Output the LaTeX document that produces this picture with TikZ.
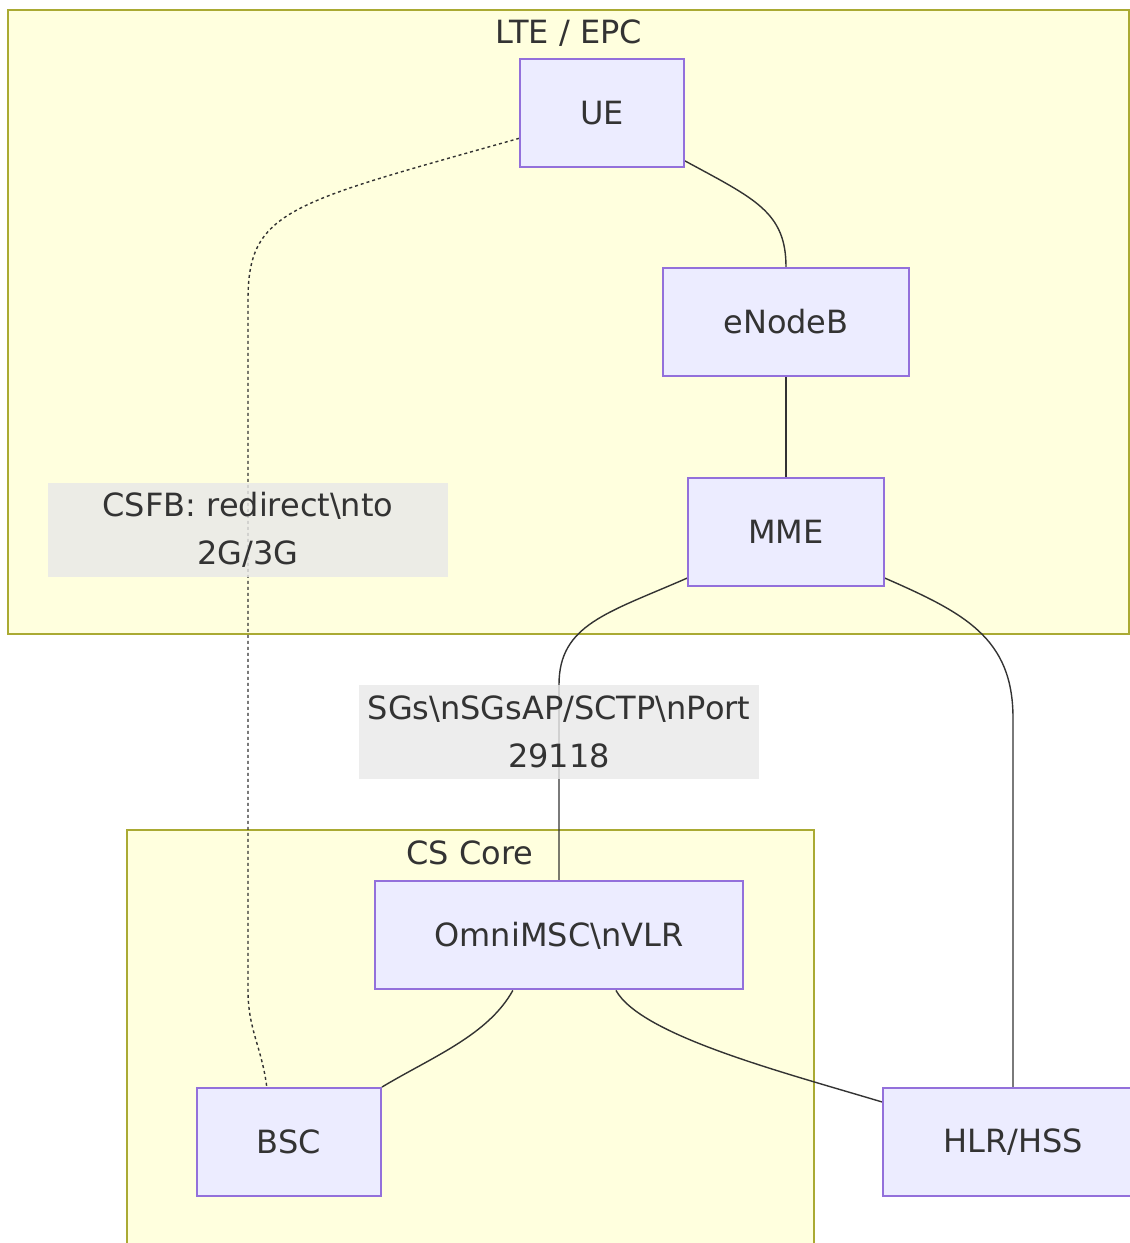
\documentclass[tikz,border=0pt]{standalone}
\usepackage{fontspec}
\setmainfont{DejaVu Sans}
\usepackage{xcolor}
\usepackage{tikz}
\usetikzlibrary{positioning, calc, backgrounds}
\definecolor{mtext}{HTML}{333333}
\definecolor{mnode}{HTML}{ECECFF}
\definecolor{mnodeline}{HTML}{9370DB}
\definecolor{mgroup}{HTML}{FFFFDE}
\definecolor{mgroupline}{HTML}{AAAA33}
\definecolor{mlabel}{HTML}{E8E8E8}
\definecolor{mlink}{HTML}{333333}
\tikzset{
  nf/.style={rectangle, draw=mnodeline, fill=mnode, text=mtext, line width=1pt,
             minimum height=54pt, inner xsep=30pt, align=center, font=\fontsize{16}{24}\selectfont},
  group/.style={rectangle, draw=mgroupline, fill=mgroup, line width=1pt, inner sep=0pt},
  grouptitle/.style={text=mtext, inner sep=0pt, font=\fontsize{16}{24}\selectfont},
  elabel/.style={rectangle, fill=mlabel, fill opacity=0.8, text opacity=1, text=mtext,
                 minimum width=200pt, minimum height=47pt, inner sep=0pt, align=center,
                 font=\fontsize{16}{24}\selectfont},
  link/.style={draw=mlink, line width=0.7pt},
  csfblink/.style={link, dash pattern=on 1.5pt off 1.5pt}
}

\begin{document}
\begin{tikzpicture}[x=0.5pt, y=-0.5pt]
  \useasboundingbox (0,0) rectangle (1130,1243);

  % nodes
  \node[nf] (ue) at (602,113) {UE};
  \node[nf] (enb) at (786,322) {eNodeB};
  \node[nf, below=50pt of enb] (mme) {MME};
  \node[elabel] (csfb) at (248,530) {CSFB: redirect\textbackslash nto\\2G/3G};
  \node[elabel] (sgs) at (559,732) {SGs\textbackslash nSGsAP/SCTP\textbackslash nPort\\29118};
  \node[nf, below=50.5pt of sgs] (msc) {OmniMSC\textbackslash nVLR};
  \node[nf] (bsc) at (289,1142) {BSC};
  \node[nf] (hlr) at (1013,1142) {HLR/HSS};

  \node[grouptitle] (ltetitle) at (569,33) {LTE / EPC};
  \node[grouptitle] (cstitle) at (470,853) {CS Core};

  \begin{pgfonlayer}{background}
    % subgraphs
    \node[group, minimum width=560.5pt, minimum height=312pt] (lte) at (568.5,322) {};
    \node[group, minimum width=343.5pt, minimum height=240pt] (cs) at (470.5,1070) {};

    % links
    \draw[link] (ue.-30) .. controls +(70,38) and +(0,-55) .. (enb.north);
    \draw[link] (enb.south) -- (mme.north);
    \draw[link] (mme.205) .. controls +(-80,35) and +(0,-60) .. (sgs.north -| msc.north) -- (msc.north);
    \draw[link] (mme.-25) .. controls +(80,35) and +(0,-80) .. ($(hlr.north)+(0,-369)$) -- (hlr.north);
    \draw[link] (msc.230) .. controls +(-25,45) and +(50,-30) .. (bsc.north east);
    \draw[link] (msc.-44) .. controls +(25,45) and +(-100,-30) .. (hlr.163);
    \draw[csfblink] (ue.197) .. controls +(-230,65) and +(0,-90) .. ($(csfb.center)+(0,-230)$)
      -- ($(csfb.center)+(0,460)$) .. controls +(0,40) and +(-5,-40) .. (bsc.112);
  \end{pgfonlayer}
\end{tikzpicture}
\end{document}
